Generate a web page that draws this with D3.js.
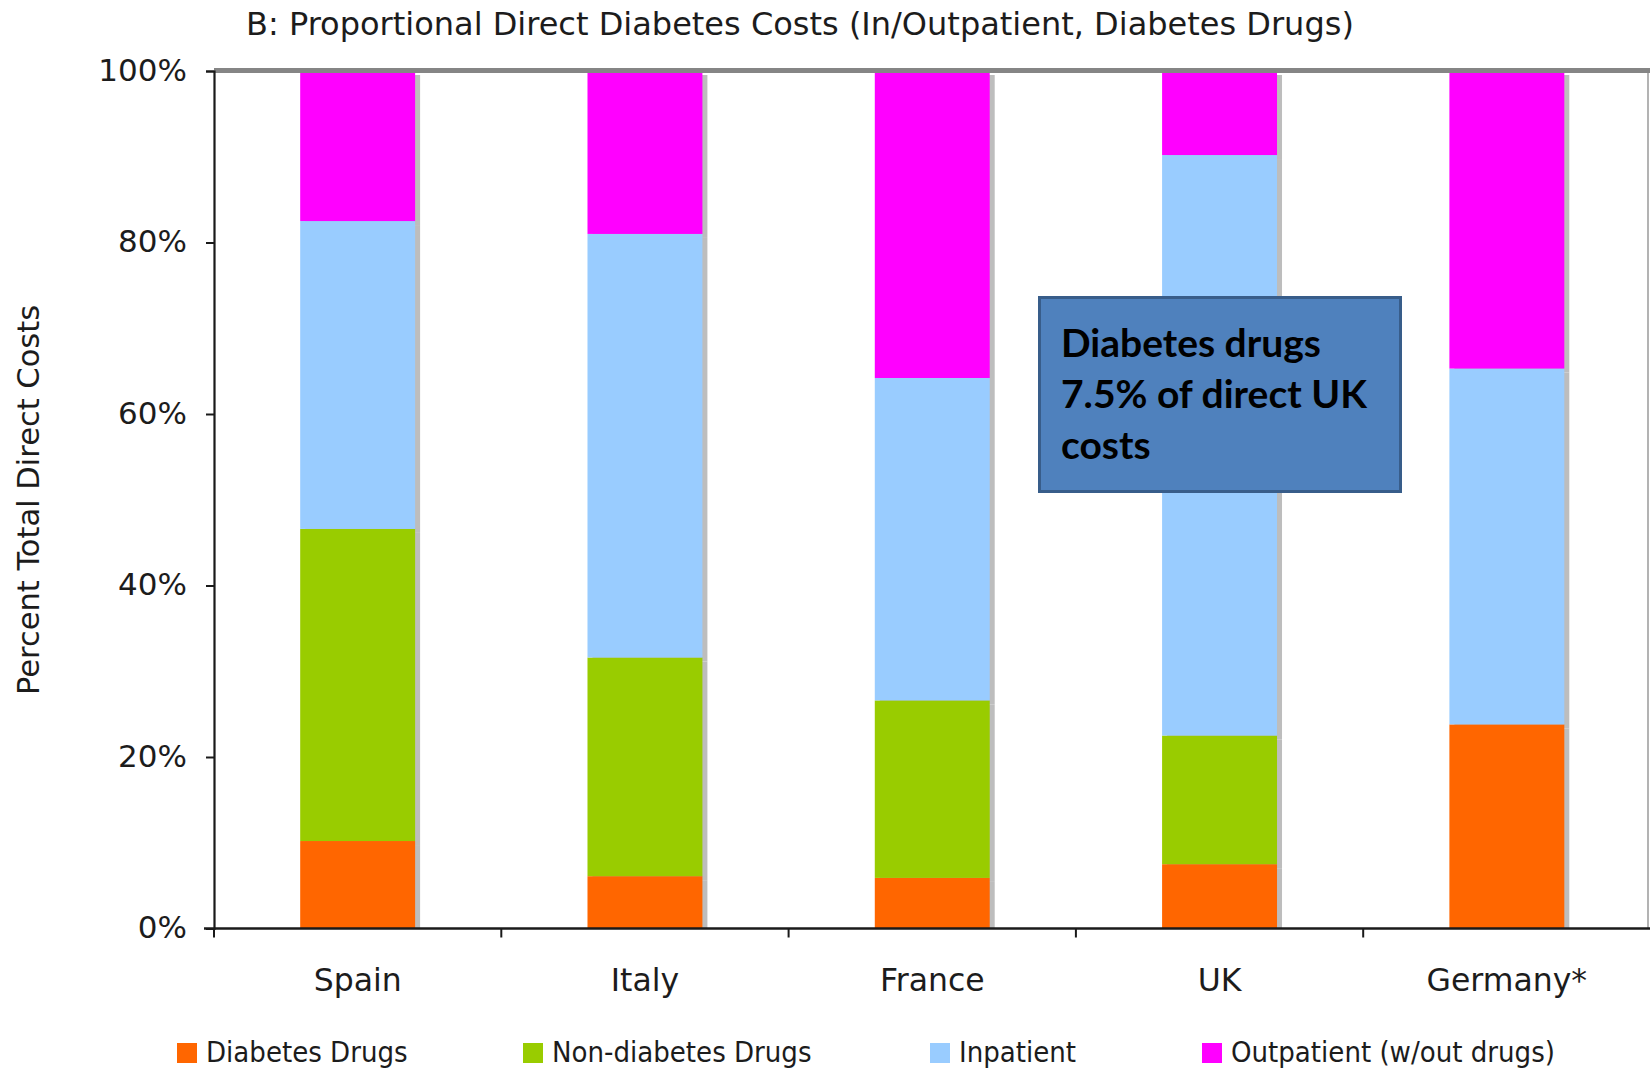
<!DOCTYPE html>
<html>
<head>
<meta charset="utf-8">
<script src="https://cdn.jsdelivr.net/npm/d3@7"></script>
<style>
  html, body { margin: 0; padding: 0; background: #fff; }
  svg { display: block; }
  .lbl  { font-family: "DejaVu Sans", sans-serif; fill: #1c1c1c; }
  .lblc { font-family: "DejaVu Sans Condensed", "DejaVu Sans", sans-serif; fill: #1c1c1c; }
</style>
</head>
<body>
<svg id="chart" width="1650" height="1069"></svg>
<script>
// Countries along the x axis
const countries = ["Spain", "Italy", "France", "UK", "Germany*"];

// Share of total direct costs (%), one array per cost component
const diabetesDrugs    = [10.2,  6.1,  5.9,  7.5, 23.8];
const nonDiabetesDrugs = [36.4, 25.5, 20.7, 15.0,  0.0];
const inpatient        = [35.9, 49.4, 37.6, 67.7, 41.5];
const outpatient       = [17.5, 19.0, 35.8,  9.8, 34.7];

const seriesNames  = ["Diabetes Drugs", "Non-diabetes Drugs", "Inpatient", "Outpatient (w/out drugs)"];
const seriesColors = ["#FF6600", "#99CC00", "#99CCFF", "#FF00FF"];

const yTicks = [0, 20, 40, 60, 80, 100];

const titleText = "B: Proportional Direct Diabetes Costs (In/Outpatient, Diabetes Drugs)";
const yTitle = "Percent Total Direct Costs";
const noteLines = ["Diabetes drugs", "7.5% of direct UK", "costs"];

// Table for the stack layout
const keys = ["d", "n", "i", "o"];
const table = countries.map((c, k) => ({
  country: c, d: diabetesDrugs[k], n: nonDiabetesDrugs[k], i: inpatient[k], o: outpatient[k]
}));
const stacked = d3.stack().keys(keys)(table);

const svg = d3.select("#chart");
const plotLeft = 214, plotRight = 1650.5, plotTop = 71, plotBottom = 928.5;

const x = d3.scaleBand().domain(countries).range([plotLeft, plotRight]);
const y = d3.scaleLinear().domain([0, 100]).range([plotBottom, plotTop]);
const barW = x.bandwidth() * 0.4;
const barX = c => x(c) + (x.bandwidth() - barW) / 2;

// Title
svg.append("text").attr("class", "lbl")
  .attr("x", 246).attr("y", 35)
  .attr("font-size", 32)
  .text(titleText);

// Right-hand frame edge
svg.append("line")
  .attr("x1", 1648).attr("x2", 1648).attr("y1", plotTop).attr("y2", plotBottom)
  .attr("stroke", "#9a9a9a").attr("stroke-width", 1.5);

// Bar shadows
stacked.forEach(layer => {
  svg.append("g").selectAll("rect").data(layer.filter(d => d[1] > d[0])).join("rect")
    .attr("x", d => barX(d.data.country) + 5)
    .attr("y", d => y(d[1]) + 4)
    .attr("width", barW)
    .attr("height", d => Math.max(0, Math.min(plotBottom, y(d[0]) + 4) - (y(d[1]) + 4)))
    .attr("fill", "#bdbdbd");
});

// Stacked bars
stacked.forEach((layer, li) => {
  svg.append("g").selectAll("rect").data(layer.filter(d => d[1] > d[0])).join("rect")
    .attr("x", d => barX(d.data.country))
    .attr("y", d => y(d[1]))
    .attr("width", barW)
    .attr("height", d => y(d[0]) - y(d[1]))
    .attr("fill", seriesColors[li]);
});

// Top frame edge at 100%
svg.append("line")
  .attr("x1", plotLeft).attr("x2", 1650).attr("y1", plotTop - 0.5).attr("y2", plotTop - 0.5)
  .attr("stroke", "#858585").attr("stroke-width", 5);

// Y axis
const yAxis = svg.append("g").attr("transform", `translate(${plotLeft},0)`)
  .call(d3.axisLeft(y).tickValues(yTicks).tickFormat(d => d + "%").tickSize(8).tickPadding(19));
yAxis.select(".domain").attr("stroke", "#1a1a1a").attr("stroke-width", 2.2);
yAxis.selectAll(".tick line").attr("stroke", "#1a1a1a").attr("stroke-width", 2);
yAxis.selectAll(".tick text").attr("class", "lbl")
  .attr("font-size", 31).attr("fill", "#1c1c1c").attr("dy", "0.3em");

// X axis: ticks at category boundaries
const boundaries = countries.map(c => x(c));
const xAxis = svg.append("g").attr("transform", `translate(0,${plotBottom})`);
xAxis.append("line").attr("x1", plotLeft - 10).attr("x2", 1650)
  .attr("stroke", "#1a1a1a").attr("stroke-width", 2.5);
xAxis.selectAll("line.tk").data(boundaries).join("line").attr("class", "tk")
  .attr("x1", d => d).attr("x2", d => d).attr("y1", 0).attr("y2", 9)
  .attr("stroke", "#1a1a1a").attr("stroke-width", 2);
xAxis.selectAll("text").data(countries).join("text").attr("class", "lbl")
  .attr("x", d => x(d) + x.bandwidth() / 2)
  .attr("y", 62)
  .attr("text-anchor", "middle")
  .attr("font-size", 31.5)
  .text(d => d);

// Y axis title
svg.append("text").attr("class", "lbl")
  .attr("transform", "translate(39,500) rotate(-90)")
  .attr("text-anchor", "middle")
  .attr("font-size", 30.5)
  .text(yTitle);

// Legend
const legendX = [177, 523, 930, 1202];
const legend = svg.append("g");
seriesNames.forEach((name, k) => {
  legend.append("rect")
    .attr("x", legendX[k]).attr("y", 1043).attr("width", 20).attr("height", 20)
    .attr("fill", seriesColors[k]);
  legend.append("text").attr("class", "lblc")
    .attr("x", legendX[k] + 29).attr("y", 1062)
    .attr("font-size", 29)
    .text(name);
});

// Annotation box
const note = svg.append("g");
note.append("rect")
  .attr("x", 1039.5).attr("y", 297.5).attr("width", 361).attr("height", 194)
  .attr("fill", "#4F81BD").attr("stroke", "#385D8A").attr("stroke-width", 3);
noteLines.forEach((t, k) => {
  note.append("text")
    .attr("x", 1061).attr("y", 357 + k * 51)
    .attr("font-family", "Lato, 'Open Sans', sans-serif")
    .attr("font-weight", "bold")
    .attr("font-size", 39)
    .attr("fill", "#000")
    .text(t);
});
</script>
</body>
</html>
